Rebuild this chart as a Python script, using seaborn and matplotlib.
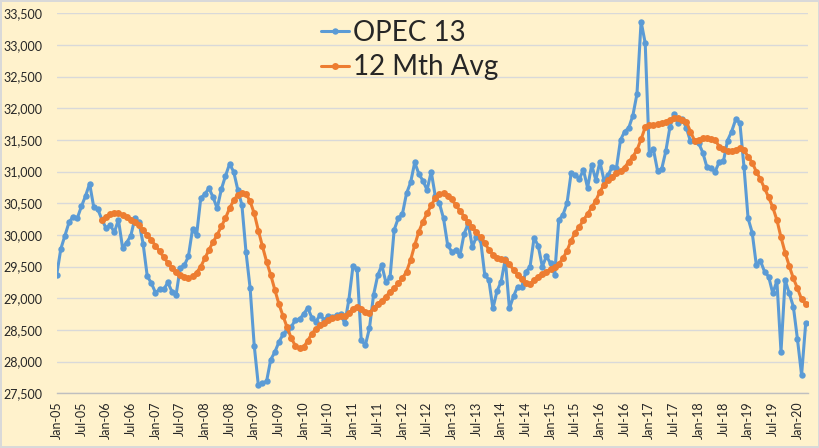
import matplotlib
matplotlib.use("Agg")
import pandas as pd
import matplotlib.pyplot as plt
import seaborn as sns
from matplotlib.ticker import FuncFormatter

# OPEC 13 crude production, monthly from Jan-05 to Mar-20 (kb/d)
opec13 = [
    29370, 29780, 29990, 30200, 30290, 30265, 30450, 30615, 30810, 30440, 30405, 30240,  # 2005
    30105, 30160, 30040, 30240, 29800, 29880, 29985, 30265, 30200, 29860, 29350, 29240,  # 2006
    29090, 29140, 29140, 29250, 29105, 29050, 29480, 29520, 29660, 30090, 30000, 30580,  # 2007
    30645, 30740, 30595, 30420, 30720, 30930, 31120, 31000, 30715, 30475, 29730, 29160,  # 2008
    28250, 27625, 27660, 27690, 28030, 28150, 28310, 28430, 28500, 28550, 28660, 28670,  # 2009
    28750, 28850, 28690, 28630, 28740, 28660, 28720, 28710, 28730, 28745, 28605, 28980,  # 2010
    29510, 29460, 28340, 28260, 28530, 29055, 29360, 29525, 29250, 29330, 30080, 30265,  # 2011
    30330, 30655, 30830, 31145, 30965, 30855, 30710, 31000, 30610, 30500, 30260, 29840,  # 2012
    29735, 29755, 29680, 30020, 30180, 29810, 29975, 29920, 29375, 29290, 28840, 29115,  # 2013
    29265, 29620, 28840, 29030, 29185, 29180, 29420, 29490, 29955, 29830, 29500, 29665,  # 2014
    29550, 29370, 30238, 30315, 30500, 30974, 30947, 30890, 31026, 30745, 31105, 30868,  # 2015
    31157, 30860, 30947, 31078, 31050, 31500, 31632, 31690, 31885, 32226, 33368, 33032,  # 2016
    31278, 31350, 31015, 31040, 31320, 31700, 31910, 31760, 31830, 31690, 31480, 31480,  # 2017
    31450, 31300, 31070, 31050, 31000, 31157, 31160, 31490, 31632, 31826, 31774, 31079,  # 2018
    30263, 30037, 29526, 29590, 29421, 29342, 29079, 29274, 28158, 29290, 29079, 28868,  # 2019
    28353, 27790, 28605,                                                                 # 2020
]

# 12 month average, first value is Dec-05
avg_start = 11
avg12 = [
    30237,                                                                               # 2005
    30290, 30332, 30345, 30352, 30316, 30285, 30240, 30200, 30157, 30079, 30000, 29921,  # 2006
    29830, 29740, 29650, 29560, 29480, 29410, 29365, 29330, 29315, 29345, 29405, 29500,  # 2007
    29630, 29765, 29890, 30000, 30135, 30265, 30420, 30545, 30635, 30668, 30650, 30530,  # 2008
    30340, 30070, 29820, 29580, 29370, 29135, 28910, 28720, 28540, 28370, 28250, 28210,  # 2009
    28230, 28330, 28440, 28520, 28575, 28615, 28655, 28685, 28705, 28715, 28725, 28763,  # 2010
    28826, 28868, 28826, 28789, 28773, 28842, 28910, 28962, 29025, 29104, 29158, 29237,  # 2011
    29316, 29420, 29605, 29842, 30052, 30210, 30340, 30470, 30580, 30650, 30660, 30620,  # 2012
    30560, 30470, 30380, 30290, 30200, 30120, 30040, 29960, 29870, 29770, 29690, 29640,  # 2013
    29620, 29600, 29540, 29450, 29370, 29300, 29240, 29220, 29290, 29340, 29380, 29420,  # 2014
    29460, 29490, 29540, 29630, 29750, 29910, 30036, 30130, 30236, 30331, 30436, 30542,  # 2015
    30684, 30789, 30868, 30920, 30974, 31015, 31065, 31157, 31236, 31342, 31510, 31700,  # 2016
    31737, 31740, 31752, 31763, 31789, 31815, 31842, 31842, 31815, 31789, 31631, 31490,  # 2017
    31500, 31526, 31526, 31515, 31500, 31395, 31353, 31332, 31332, 31342, 31368, 31342,  # 2018
    31237, 31142, 31000, 30879, 30737, 30595, 30437, 30237, 29963, 29721, 29511, 29316,  # 2019
    29158, 28984, 28911,                                                                 # 2020
]

tick_labels = [
    "Jan-05", "Jul-05", "Jan-06", "Jul-06", "Jan-07", "Jul-07", "Jan-08", "Jul-08",
    "Jan-09", "Jul-09", "Jan-10", "Jul-10", "Jan-11", "Jul-11", "Jan-12", "Jul-12",
    "Jan-13", "Jul-13", "Jan-14", "Jul-14", "Jan-15", "Jul-15", "Jan-16", "Jul-16",
    "Jan-17", "Jul-17", "Jan-18", "Jul-18", "Jan-19", "Jul-19", "Jan-20",
]

y_ticks = list(range(27500, 33501, 500))

blue = "#5B9BD5"
orange = "#ED7D31"
bg = "#FFF2CC"
text_col = "#262626"

sns.set_style("white")
plt.rcParams["font.family"] = ["Lato", "DejaVu Sans"]

df_opec = pd.DataFrame({"month": range(len(opec13)), "kbd": opec13})
df_avg = pd.DataFrame({"month": range(avg_start, avg_start + len(avg12)), "kbd": avg12})

fig = plt.figure(figsize=(8.2, 4.48), dpi=100, facecolor=bg,
                 edgecolor="#D9D9D9", linewidth=1.5)
ax = fig.add_axes([56.7 / 820, 54.7 / 448, 751.3 / 820, 380 / 448])
ax.set_facecolor(bg)

sns.lineplot(data=df_opec, x="month", y="kbd", ax=ax, color=blue, lw=2.2,
             marker="o", markersize=4.6, markeredgewidth=0, label="OPEC 13")
sns.lineplot(data=df_avg, x="month", y="kbd", ax=ax, color=orange, lw=2.2,
             marker="o", markersize=5.0, markeredgewidth=0, label="12 Mth Avg")

ax.set_xlim(0, 182.56)
ax.set_ylim(27500, 33500)
ax.set_yticks(y_ticks)
ax.yaxis.set_major_formatter(FuncFormatter(lambda v, p: f"{int(v):,}"))
ax.set_xticks(range(0, 6 * len(tick_labels), 6))
ax.set_xticklabels(tick_labels, rotation=90)
ax.set_xlabel("")
ax.set_ylabel("")

ax.grid(axis="y", color="#D9D9D9", lw=1.0)
ax.grid(axis="x", visible=False)
ax.set_axisbelow(True)
for s in ["left", "right", "top"]:
    ax.spines[s].set_visible(False)
ax.spines["bottom"].set_color("#BFBFBF")
ax.spines["bottom"].set_linewidth(1.0)
ax.tick_params(axis="y", length=0, pad=10.5, labelsize=9, labelcolor=text_col)
ax.tick_params(axis="x", length=4, width=1, color="#BFBFBF", pad=2,
               labelsize=9, labelcolor=text_col, direction="out")

handles, labels = ax.get_legend_handles_labels()
ax.legend(handles, labels, loc="upper left", bbox_to_anchor=(0.392, 0.955),
          bbox_transform=fig.transFigure, frameon=False, fontsize=20,
          handlelength=1.0, handletextpad=0.12, labelspacing=0.3,
          borderpad=0, borderaxespad=0)

fig.savefig("out.png", dpi=100, facecolor=bg, edgecolor=fig.get_edgecolor())
